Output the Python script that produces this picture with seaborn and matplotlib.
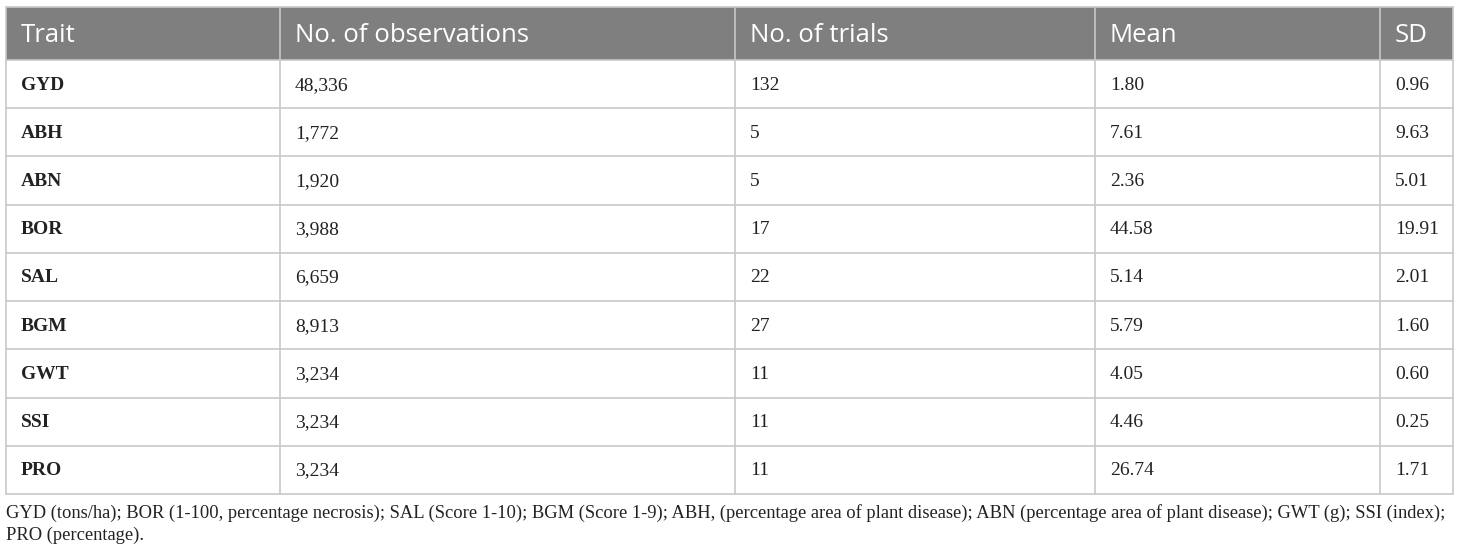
import matplotlib
matplotlib.use("Agg")
import matplotlib.pyplot as plt
from matplotlib.patches import Rectangle
import seaborn as sns

# table content
headers = ["Trait", "No. of observations", "No. of trials", "Mean", "SD"]
traits = ["GYD", "ABH", "ABN", "BOR", "SAL", "BGM", "GWT", "SSI", "PRO"]
observations = [48336, 1772, 1920, 3988, 6659, 8913, 3234, 3234, 3234]
trials = [132, 5, 5, 17, 22, 27, 11, 11, 11]
means = [1.80, 7.61, 2.36, 44.58, 5.14, 5.79, 4.05, 4.46, 26.74]
sds = [0.96, 9.63, 5.01, 19.91, 2.01, 1.60, 0.60, 0.25, 1.71]
footnote_lines = [
    "GYD (tons/ha); BOR (1-100, percentage necrosis); SAL (Score 1-10); BGM (Score 1-9); ABH, "
    "(percentage area of plant disease); ABN (percentage area of plant disease); GWT (g); SSI (index);",
    "PRO (percentage).",
]

# layout in pixels
col_edges = [6, 280, 735, 1095, 1380, 1453]
head_top, head_bot = 7, 60
row_h = (494 - head_bot) / len(traits)
pad = 15
line_col = "#c8c8c8"
head_col = "#7f7f7f"
text_col = "#222222"

sns.set_theme(style="white")
plt.rcParams["font.family"] = ["Liberation Serif", "DejaVu Serif"]

fig = plt.figure(figsize=(14.6, 5.56), dpi=100)
ax = fig.add_axes([0, 0, 1, 1])
ax.set_xlim(0, 1460)
ax.set_ylim(556, 0)
ax.axis("off")

# header band
ax.add_patch(Rectangle((col_edges[0], head_top), col_edges[-1] - col_edges[0],
                       head_bot - head_top, facecolor=head_col, edgecolor="none"))
for i, h in enumerate(headers):
    ax.text(col_edges[i] + pad, (head_top + head_bot) / 2 + 2, h, color="white",
            fontsize=18.5, family=["Open Sans", "DejaVu Sans"], va="center", ha="left")

# body rows
for r, t in enumerate(traits):
    yc = head_bot + row_h * (r + 0.5)
    cells = [t, f"{observations[r]:,}", str(trials[r]), f"{means[r]:.2f}", f"{sds[r]:.2f}"]
    for c, val in enumerate(cells):
        ax.text(col_edges[c] + pad, yc + 1, val, color=text_col, fontsize=14,
                fontweight="bold" if c == 0 else "normal", va="center", ha="left")

# grid lines
bottom = head_bot + row_h * len(traits)
for r in range(len(traits) + 1):
    y = head_bot + row_h * r
    ax.plot([col_edges[0], col_edges[-1]], [y, y], color=line_col, lw=1.2)
ax.plot([col_edges[0], col_edges[-1]], [head_top, head_top], color=line_col, lw=1.2)
for x in col_edges:
    ax.plot([x, x], [head_top, bottom], color=line_col, lw=1.2)

# footnote
for i, line in enumerate(footnote_lines):
    ax.text(col_edges[0], 513 + 22 * i, line, color=text_col, fontsize=13.3,
            va="center", ha="left")

fig.savefig("out.png", dpi=100)
